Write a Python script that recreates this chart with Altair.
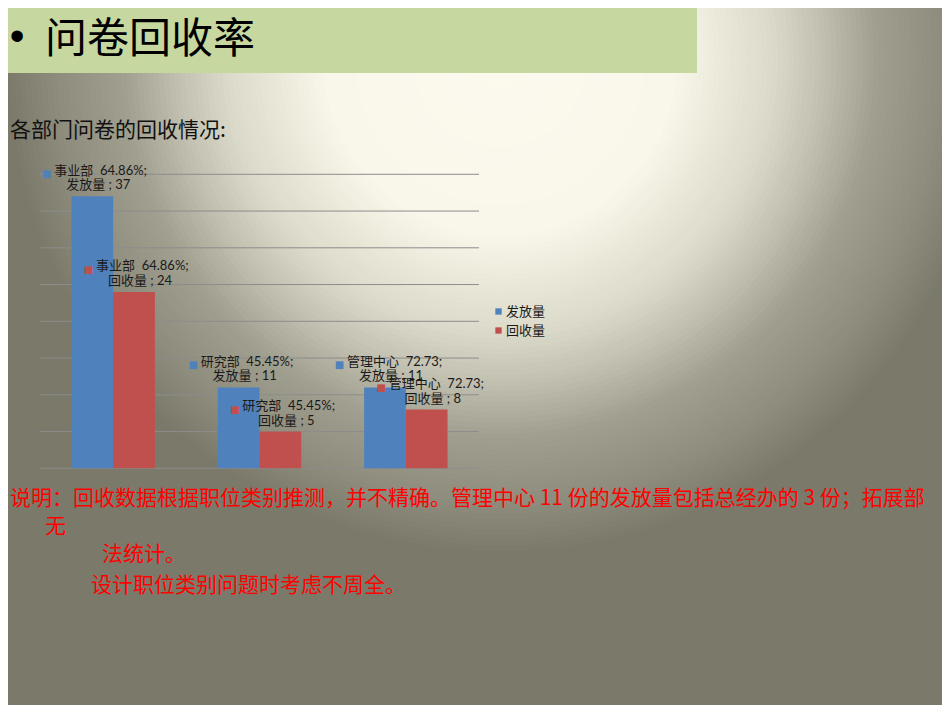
import altair as alt
import numpy as np
import pandas as pd

# ---- data ----
departments = ["事业部", "研究部", "管理中心"]
rates = ["64.86%", "45.45%", "72.73"]
series = ["发放量", "回收量"]
issued = [37, 11, 11]
returned = [24, 5, 8]
grid_values = [0, 5, 10, 15, 20, 25, 30, 35, 40]
series_colors = ["#4f81bd", "#c0504d"]

title_text = "问卷回收率"
subtitle_text = "各部门问卷的回收情况:"
note_lines = [
    "说明：回收数据根据职位类别推测，并不精确。管理中心 11 份的发放量包括总经办的 3 份；拓展部",
    "无",
    "法统计。",
    "设计职位类别问题时考虑不周全。",
]

rows = []
for d, r, a, b in zip(departments, rates, issued, returned):
    for s, v in zip(series, (a, b)):
        rows.append({"dept": d, "series": s, "value": v,
                     "line1": f"{d}\u00a0 {r};", "line2": f"{s} ; {v}"})
df = pd.DataFrame(rows)
grid_df = pd.DataFrame({"g": grid_values})
one = pd.DataFrame({"k": [0]})

W, H = 934, 697
CJK = "'Noto Sans CJK SC'"
LABEL_FONT = "Lato, 'Noto Sans CJK SC'"

# ---- slide background: soft radial glow built from concentric discs ----
glow_radius = [0, 200, 270, 310, 370, 430, 500, 560]
glow_color = ["#fcfaee", "#f9f7ea", "#e6e4d4", "#dcdaca", "#c0beae", "#a09e8e", "#8f8d7e", "#7b7a6a"]


def _rgb(h):
    return [int(h[i:i + 2], 16) for i in (1, 3, 5)]


_chan = np.array([_rgb(c) for c in glow_color], dtype=float)
ring_r = np.arange(560, 0, -6)
ring_rows = []
for rr in ring_r:
    c = [int(round(np.interp(rr, glow_radius, _chan[:, k]))) for k in range(3)]
    ring_rows.append({"area": float(np.pi * rr * rr),
                      "fillc": "#%02x%02x%02x" % tuple(c),
                      "ord": int(-rr)})
ring_df = pd.DataFrame(ring_rows)

base_bg = alt.Chart(one).mark_rect(color="#7b7a6a").encode(
    x=alt.value(0), x2=alt.value(W), y=alt.value(0), y2=alt.value(H))

glow = alt.Chart(ring_df).mark_circle(opacity=1, strokeWidth=0).encode(
    x=alt.value(492), y=alt.value(52),
    size=alt.Size("area:Q", scale=None, legend=None),
    fill=alt.Fill("fillc:N", scale=None, legend=None),
    order=alt.Order("ord:Q"),
)

x_scale = alt.Scale(domain=departments, range=[32, 471], paddingInner=0.43, paddingOuter=0.215)
xo_scale = alt.Scale(domain=series, paddingInner=0, paddingOuter=0)
y_scale = alt.Scale(domain=[0, 40], range=[460.3, 166.3])
color_scale = alt.Scale(domain=series, range=series_colors)
color_enc = alt.Color(
    "series:N",
    scale=color_scale,
    legend=alt.Legend(title=None, orient="none", legendX=484, legendY=297,
                      symbolType="square", symbolSize=40, symbolStrokeWidth=0,
                      labelFont=CJK, labelFontSize=13, labelColor="#1a1a1a",
                      labelOffset=1, rowPadding=5),
)
X = alt.X("dept:N", scale=x_scale, axis=None, sort=departments)
XO = alt.XOffset("series:N", scale=xo_scale, sort=series)
Y = alt.Y("value:Q", scale=y_scale, axis=None)

title_box = alt.Chart(one).mark_rect(color="#c6d8a0").encode(
    x=alt.value(0), x2=alt.value(689), y=alt.value(0), y2=alt.value(65))

bullet = alt.Chart(one).mark_text(text="•", font="Liberation Sans", fontSize=42,
                                  align="center", baseline="middle", color="#000000").encode(
    x=alt.value(9), y=alt.value(29))

title = alt.Chart(one).mark_text(text=title_text, font=CJK, fontSize=42,
                                 align="left", baseline="middle", color="#000000").encode(
    x=alt.value(37), y=alt.value(32))

subtitle = alt.Chart(one).mark_text(text=subtitle_text, font=CJK, fontSize=21,
                                    align="left", baseline="middle", color="#111111").encode(
    x=alt.value(2), y=alt.value(123))

grid = alt.Chart(grid_df).mark_rule(color="#8c8c8c", strokeWidth=1).encode(
    y=alt.Y("g:Q", scale=y_scale, axis=None), x=alt.value(32), x2=alt.value(471))

bars = alt.Chart(df).mark_bar().encode(x=X, xOffset=XO, y=Y, color=color_enc)

squares = alt.Chart(df).mark_text(text="■", font="DejaVu Sans", fontSize=10,
                                  align="center", baseline="middle", dx=-45.5, dy=-22).encode(
    x=X, xOffset=XO, y=Y, color=color_enc)

line1 = alt.Chart(df).mark_text(align="left", baseline="middle", dx=-38, dy=-25.5,
                                font=LABEL_FONT, fontSize=13, color="#1a1a1a").encode(
    x=X, xOffset=XO, y=Y, text="line1:N")

line2 = alt.Chart(df).mark_text(align="center", baseline="middle", dx=6, dy=-11,
                                font=LABEL_FONT, fontSize=13, color="#1a1a1a").encode(
    x=X, xOffset=XO, y=Y, text="line2:N")

note_pos = [(2, 491), (37, 519), (94, 547), (83, 578)]
notes = [
    alt.Chart(one).mark_text(text=t, font=CJK, fontSize=21, align="left",
                             baseline="middle", color="#ff0000").encode(
        x=alt.value(px), y=alt.value(py))
    for t, (px, py) in zip(note_lines, note_pos)
]

chart = alt.layer(base_bg, glow, title_box, bullet, title, subtitle, grid, bars, squares,
                  line1, line2, *notes).properties(
    width=W, height=H, padding=0,
    autosize=alt.AutoSizeParams(type="none"),
).configure_view(stroke=None)

chart.save("out.html", embed_options={"renderer": "svg", "actions": False})
